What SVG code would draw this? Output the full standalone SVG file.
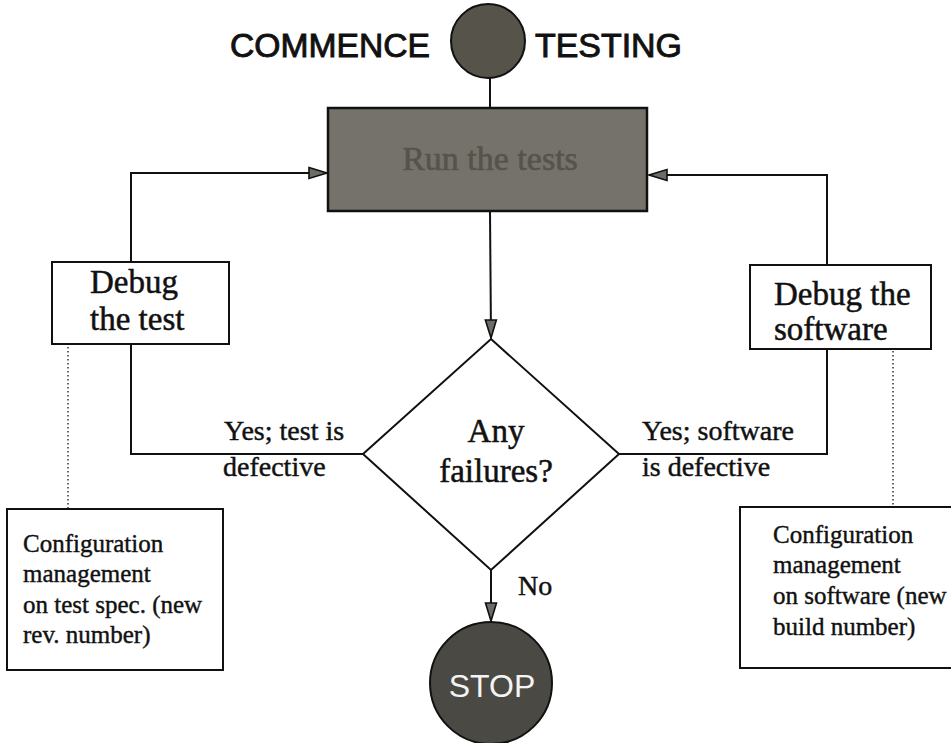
<svg xmlns="http://www.w3.org/2000/svg" width="951" height="743" viewBox="0 0 951 743">
  <style>
    .sans { font-family: "Liberation Sans", Arial, sans-serif; }
    .serif { font-family: "Liberation Serif", "Times New Roman", serif; fill: #111; stroke: #111; }
    .box { fill: #ffffff; stroke: #111; stroke-width: 2; }
    .wire { fill: none; stroke: #111; stroke-width: 2; }
    .dots { fill: none; stroke: #333; stroke-width: 1.5; stroke-dasharray: 1.5 2.5; }
    .big { font-size: 33px; stroke-width: 0.5; }
    .lbl { font-size: 28px; stroke-width: 0.45; }
    .note { font-size: 25px; stroke-width: 0.4; }
  </style>
  <defs>
    <marker id="arrow" markerUnits="userSpaceOnUse" markerWidth="22" markerHeight="14" refX="19" refY="7" orient="auto">
      <path d="M1,1.5 L19,7 L1,12.5 Z" fill="#6e6c66" stroke="#111" stroke-width="1.6" stroke-linejoin="miter"/>
    </marker>
  </defs>

  <rect width="951" height="743" fill="#ffffff"/>

  <!-- connectors -->
  <g id="connectors">
    <line class="wire" x1="490" y1="78" x2="490" y2="108"/>
    <line class="wire" x1="490" y1="211" x2="491" y2="338" marker-end="url(#arrow)"/>
    <line class="wire" x1="491" y1="570" x2="491" y2="621" marker-end="url(#arrow)"/>
    <!-- test defect loop -->
    <path class="wire" d="M363,454 H131 V344"/>
    <path class="wire" d="M131,262 V173 H327" marker-end="url(#arrow)"/>
    <!-- software defect loop -->
    <path class="wire" d="M619,454 H827 V349"/>
    <path class="wire" d="M827,265 V175 H649" marker-end="url(#arrow)"/>
    <!-- links to configuration notes -->
    <line class="dots" x1="68" y1="347" x2="68" y2="508"/>
    <line class="dots" x1="893" y1="351" x2="893" y2="506"/>
  </g>

  <!-- start -->
  <g id="start">
    <circle cx="488" cy="41" r="37" fill="#56534a" stroke="#111" stroke-width="2"/>
    <text class="sans" x="230" y="57" font-size="33" textLength="200" lengthAdjust="spacingAndGlyphs" fill="#111" stroke="#111" stroke-width="0.9">COMMENCE</text>
    <text class="sans" x="535" y="57" font-size="33" textLength="147" lengthAdjust="spacingAndGlyphs" fill="#111" stroke="#111" stroke-width="0.9">TESTING</text>
  </g>

  <!-- run the tests -->
  <g id="run-tests">
    <rect x="328" y="108" width="319" height="103" fill="#74726a" stroke="#111" stroke-width="2.5"/>
    <text x="490" y="170" font-family="Liberation Serif, Times New Roman, serif" font-size="34" text-anchor="middle" fill="#55534b" stroke="#55534b" stroke-width="0.6">Run the tests</text>
  </g>

  <!-- decision -->
  <g id="any-failures">
    <polygon class="box" points="491,339 619,454 491,570 363,454"/>
    <text class="serif big" x="496" y="442" text-anchor="middle">Any</text>
    <text class="serif big" x="496" y="482" text-anchor="middle">failures?</text>
  </g>

  <!-- debug the test -->
  <g id="debug-test">
    <rect class="box" x="52" y="262" width="177" height="82"/>
    <text class="serif big" x="90" y="293">Debug</text>
    <text class="serif big" x="90" y="330">the test</text>
  </g>

  <!-- debug the software -->
  <g id="debug-software">
    <rect class="box" x="750" y="265" width="181" height="84"/>
    <text class="serif big" x="774" y="305">Debug the</text>
    <text class="serif big" x="774" y="340">software</text>
  </g>

  <!-- branch labels -->
  <g id="labels">
    <text class="serif lbl" x="224" y="440">Yes; test is</text>
    <text class="serif lbl" x="223" y="476">defective</text>
    <text class="serif lbl" x="642" y="440">Yes; software</text>
    <text class="serif lbl" x="642" y="476">is defective</text>
    <text class="serif lbl" x="518" y="595">No</text>
  </g>

  <!-- configuration notes -->
  <g id="config-test">
    <rect class="box" x="7" y="509" width="216" height="161"/>
    <text class="serif note" x="23" y="552">Configuration</text>
    <text class="serif note" x="23" y="582">management</text>
    <text class="serif note" x="23" y="613">on test spec. (new</text>
    <text class="serif note" x="23" y="643">rev. number)</text>
  </g>
  <g id="config-software">
    <rect class="box" x="740" y="507" width="230" height="161"/>
    <text class="serif note" x="773" y="543">Configuration</text>
    <text class="serif note" x="773" y="573">management</text>
    <text class="serif note" x="773" y="604">on software (new</text>
    <text class="serif note" x="773" y="635">build number)</text>
  </g>

  <!-- stop -->
  <g id="stop">
    <circle cx="491" cy="683" r="61" fill="#4b4944" stroke="#111" stroke-width="2"/>
    <text class="sans" x="492" y="697" font-size="32" text-anchor="middle" fill="#f4f4f4">STOP</text>
  </g>
</svg>
